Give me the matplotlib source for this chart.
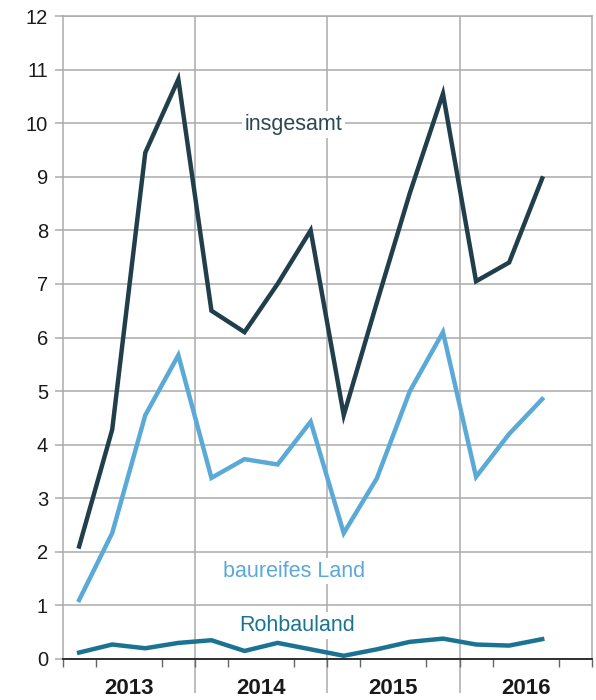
import numpy as np
import matplotlib.pyplot as plt
import matplotlib.transforms as mtransforms

plt.rcParams['font.family'] = ['Liberation Sans', 'DejaVu Sans']

# Quartale 2013 Q1 .. 2016 Q3
years = ['2013', '2014', '2015', '2016']
insgesamt = [2.1, 4.28, 9.45, 10.82, 6.5, 6.1, 7.0, 8.0, 4.55, 6.65, 8.7, 10.55, 7.05, 7.4, 8.97]
baureif = [1.1, 2.35, 4.55, 5.67, 3.38, 3.73, 3.63, 4.43, 2.35, 3.37, 5.0, 6.1, 3.4, 4.2, 4.85]
rohbau = [0.12, 0.27, 0.2, 0.3, 0.35, 0.15, 0.3, 0.18, 0.06, 0.18, 0.32, 0.38, 0.27, 0.25, 0.37]

c_ges = '#213f4b'
c_bau = '#5aa9d6'
c_roh = '#1b7394'
grid_c = '#ababab'

fig = plt.figure(figsize=(5.96, 7.0), dpi=100)
ax = fig.add_axes([0.105, 0.0586, 0.888, 0.9185])

x = np.arange(len(insgesamt))
ax.plot(x, insgesamt, color=c_ges, lw=3.2, solid_joinstyle='miter', zorder=3)
ax.plot(x, baureif, color=c_bau, lw=3.2, solid_joinstyle='miter', zorder=3)
ax.plot(x, rohbau, color=c_roh, lw=3.2, solid_joinstyle='miter', zorder=3)

ax.set_xlim(-0.5, 15.5)
ax.set_ylim(0, 12)

# Gitter
ax.set_yticks(range(0, 13))
ax.yaxis.grid(True, color=grid_c, lw=1.1)
ax.tick_params(axis='y', length=5.5, color=grid_c, width=1.1, labelsize=14.5, pad=5,
               labelcolor='#1a1a1a')

# Jahrestrennlinien, nach unten verlängert
trans = mtransforms.blended_transform_factory(ax.transData, ax.transAxes)
ax.vlines([3.5, 7.5, 11.5], -0.053, 1, transform=trans, color=grid_c, lw=1.1,
          zorder=1, clip_on=False)

ax.set_xticks(np.arange(-0.5, 16, 1), minor=True)
ax.set_xticks([1.5, 5.5, 9.5, 13.5])
ax.set_xticklabels(years, fontweight='bold', fontsize=16, color='#1a1a1a')
ax.tick_params(axis='x', which='major', length=0, pad=14)
ax.tick_params(axis='x', which='minor', length=6, color='#666666', width=1)

for s in ['left', 'right', 'top']:
    ax.spines[s].set_color(grid_c)
    ax.spines[s].set_linewidth(1.1)
ax.spines['bottom'].set_color('#222222')
ax.spines['bottom'].set_linewidth(1.3)

box = dict(facecolor='white', edgecolor='none', pad=2)
ax.text(6.49, 9.98, 'insgesamt', color='#2b4855', fontsize=15.5, ha='center', va='center',
        bbox=box, zorder=2)
ax.text(6.5, 1.64, 'baureifes Land', color=c_bau, fontsize=15.5, ha='center', va='center',
        bbox=box, zorder=2)
ax.text(6.58, 0.63, 'Rohbauland', color=c_roh, fontsize=15.5, ha='center', va='center',
        bbox=box, zorder=2)

fig.savefig('out.png', dpi=100)
